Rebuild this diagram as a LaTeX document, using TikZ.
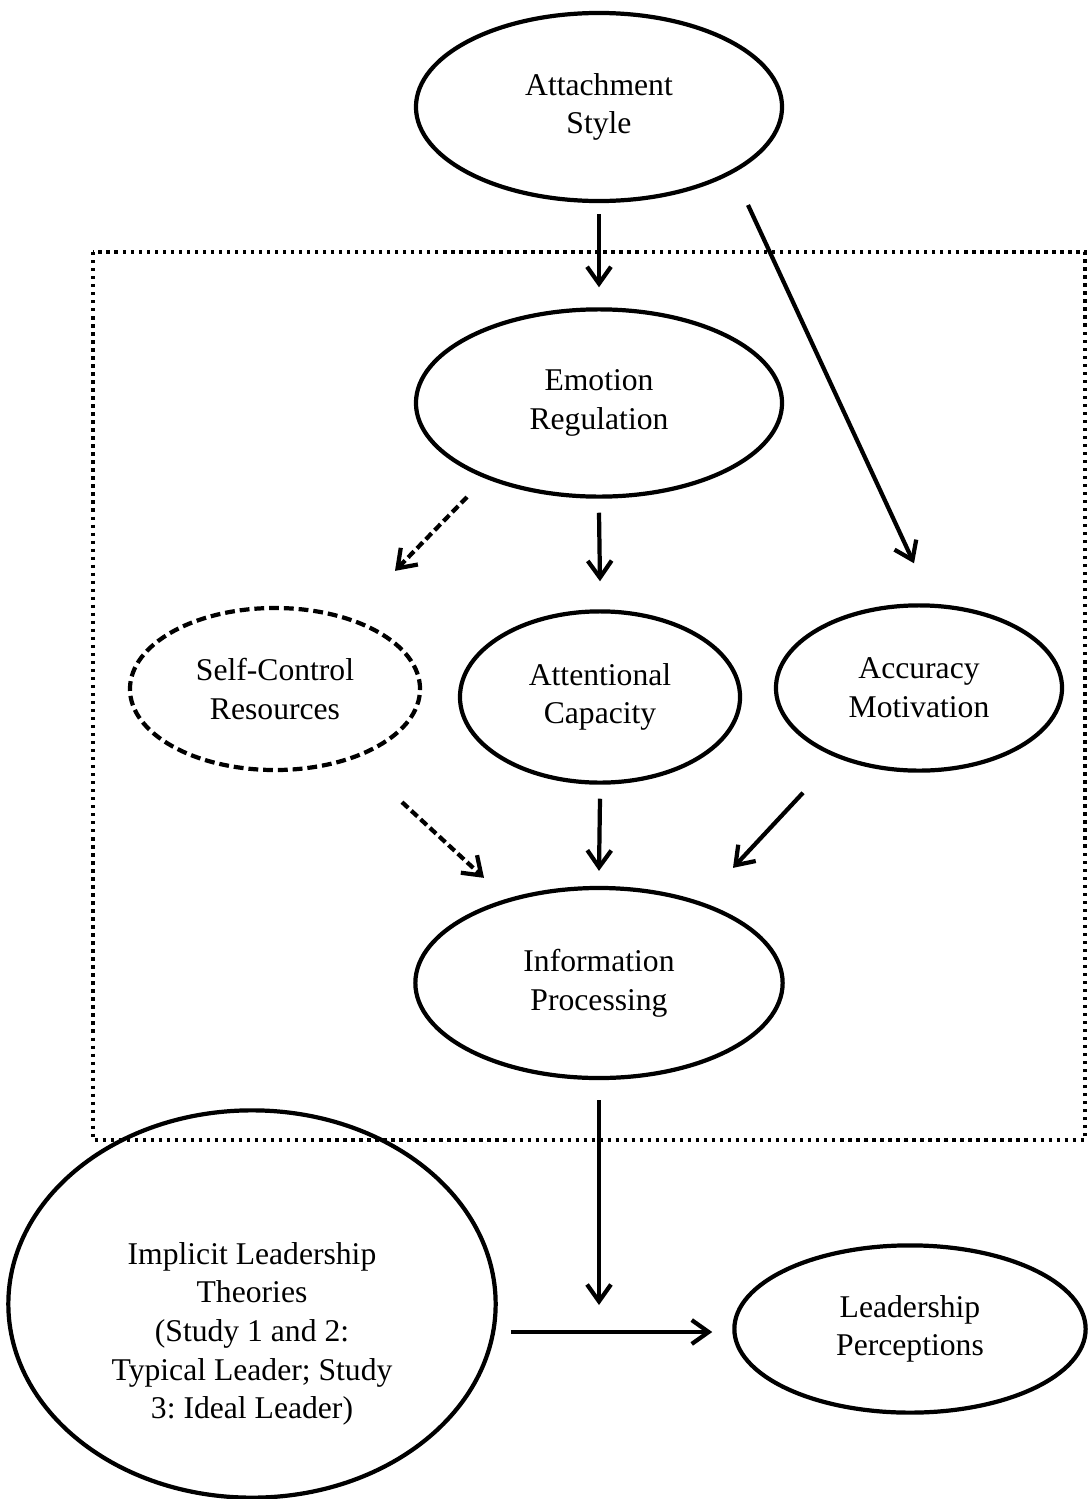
\documentclass[tikz,border=0pt]{standalone}
\usepackage{fontspec}
\setmainfont{Liberation Serif}
\usetikzlibrary{arrows.meta, shapes.geometric}
\frenchspacing

\begin{document}
\begin{tikzpicture}[
    x=0.025cm, y=-0.025cm,
    oval/.style={ellipse, draw, line width=3pt, inner sep=0pt,
                 align=center, font=\fontsize{22.5}{27.5}\selectfont},
    dashoval/.style={oval, dash pattern=on 7pt off 3.5pt},
    txt/.style={align=center, font=\fontsize{22.5}{27.5}\selectfont},
    arrow/.style={-{Straight Barb[length=12pt, width=17pt]}, line width=3pt},
    dasharrow/.style={arrow, dash pattern=on 6pt off 3pt},
    frame/.style={line width=2.4pt, dash pattern=on 2.4pt off 3.3pt}
]
\useasboundingbox (0,0) rectangle (1087,1499);

% mediators frame
\draw[frame] (93,252) rectangle (1085,1140);

\node[oval, minimum width=9.15cm, minimum height=4.7cm] (att) at (599,107) {Attachment\\Style};
\node[oval, minimum width=9.15cm, minimum height=4.68cm] (emo) at (599,403) {Emotion\\Regulation};
\node[dashoval, minimum width=7.25cm, minimum height=4.05cm] (self) at (275,689) {Self-Control\\Resources};
\node[oval, minimum width=7.0cm, minimum height=4.28cm] (attn) at (600,697) {Attentional\\Capacity};
\node[oval, minimum width=7.15cm, minimum height=4.13cm] (acc) at (919,688) {Accuracy\\Motivation};
\node[oval, minimum width=9.18cm, minimum height=4.75cm] (info) at (599,983) {Information\\Processing};
\node[oval, minimum width=12.18cm, minimum height=9.68cm] (ilt) at (252,1304) {};
\node[txt] (ilttext) at (252,1334) {Implicit Leadership\\Theories\\(Study 1 and 2:\\Typical Leader; Study\\3: Ideal Leader)};
\node[oval, minimum width=8.78cm, minimum height=4.18cm] (lp) at (910,1329) {Leadership\\Perceptions};
\coordinate (mod) at (599,1305);

\draw[arrow] ([shift={(0,11)}]att.south) -- ([shift={(0,-20)}]emo.north);
\draw[arrow] ([shift={(149,98)}]att.center) -- ([shift={(-5,-40)}]acc.north);
\draw[dasharrow] ([shift={(-132,94)}]emo.center) -- ([shift={(120,-35)}]self.north);
\draw[arrow] ([shift={(0,14)}]emo.south) -- ([shift={(0,-28)}]attn.north);
\draw[dasharrow] ([shift={(127,30)}]self.south) -- ([shift={(-115,-8)}]info.north);
\draw[arrow] ([shift={(0,14)}]attn.south) -- ([shift={(0,-15)}]info.north);
\draw[arrow] ([shift={(-116,20)}]acc.south) -- ([shift={(134,-18)}]info.north);
\draw[arrow] ([shift={(0,20)}]info.south) -- (mod);
\draw[arrow] ([shift={(13,28)}]ilt.east) -- ([shift={(-20,3)}]lp.west);
\end{tikzpicture}
\end{document}
